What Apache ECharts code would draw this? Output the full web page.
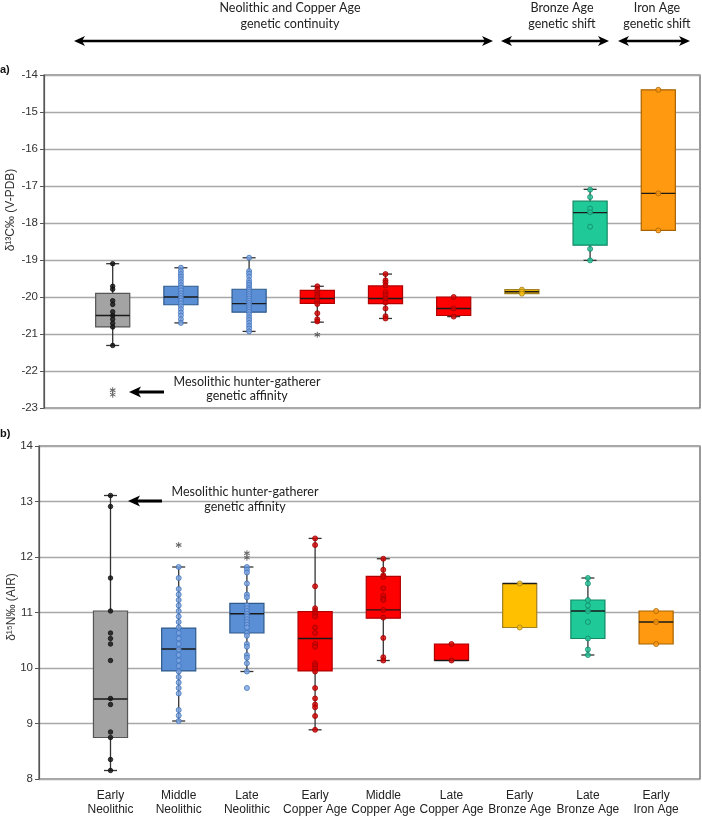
<!DOCTYPE html>
<html>
<head>
<meta charset="utf-8">
<script src="https://cdn.jsdelivr.net/npm/echarts@6/dist/echarts.min.js"></script>
<style>
html,body{margin:0;padding:0;background:#fff;}
#chart{width:702px;height:817px;}
</style>
</head>
<body>
<div id="chart"></div>
<script>
// ---------------- DATA ----------------
const categories = ['Early\nNeolithic','Middle\nNeolithic','Late\nNeolithic','Early\nCopper Age','Middle\nCopper Age','Late\nCopper Age','Early\nBronze Age','Late\nBronze Age','Early\nIron Age'];

// δ13C boxes: [min, Q1, median, Q3, max]
const c13Box = [
  [-21.31, -20.81, -20.50, -19.90, -19.10],
  [-20.70, -20.21, -20.00, -19.71, -19.21],
  [-20.93, -20.41, -20.18, -19.79, -18.94],
  [-20.68, -20.17, -20.04, -19.82, -19.71],
  [-20.58, -20.18, -20.04, -19.70, -19.38],
  [-20.53, -20.50, -20.31, -20.00, -20.00],
  [-19.91, -19.91, -19.86, -19.80, -19.80],
  [-19.01, -18.60, -17.72, -17.41, -17.09],
  [-18.20, -18.20, -17.20, -14.40, -14.40]
];
const c13Points = [
  [-19.10,-19.71,-19.79,-20.10,-20.20,-20.40,-20.50,-20.60,-20.71,-20.81,-21.31],
  [-19.21,-19.30,-19.38,-19.45,-19.52,-19.60,-19.68,-19.75,-19.82,-19.90,-19.97,-20.03,-20.10,-20.17,-20.25,-20.33,-20.42,-20.50,-20.60,-20.70],
  [-18.94,-19.30,-19.37,-19.45,-19.55,-19.62,-19.68,-19.75,-19.80,-19.86,-19.92,-19.98,-20.04,-20.10,-20.16,-20.22,-20.28,-20.34,-20.40,-20.47,-20.55,-20.62,-20.70,-20.78,-20.85,-20.93],
  [-19.71,-19.80,-19.88,-19.94,-20.00,-20.10,-20.19,-20.44,-20.60,-20.66],
  [-19.38,-19.55,-19.61,-19.69,-19.87,-19.95,-20.04,-20.15,-20.31,-20.52,-20.58],
  [-20.00,-20.31,-20.53],
  [-19.80,-19.85,-19.91],
  [-17.10,-17.30,-17.61,-17.71,-18.10,-18.70,-19.01],
  [-14.40,-17.20,-18.20]
];
const c13Outliers = [[0,-22.52],[0,-22.64],[3,-21.02]];

// δ15N boxes: [min, Q1, median, Q3, max]
const n15Box = [
  [8.10, 8.70, 9.40, 11.00, 13.10],
  [9.00, 9.91, 10.31, 10.69, 11.80],
  [9.90, 10.60, 10.95, 11.14, 11.80],
  [8.84, 9.91, 10.50, 10.99, 12.32],
  [10.10, 10.87, 11.02, 11.63, 11.95],
  [10.10, 10.10, 10.10, 10.40, 10.40],
  [10.70, 10.70, 11.50, 11.50, 11.50],
  [10.20, 10.50, 11.00, 11.20, 11.60],
  [10.40, 10.40, 10.80, 11.00, 11.00]
];
const n15Points = [
  [13.10,12.90,11.60,11.00,10.60,10.50,10.40,10.10,9.41,9.30,8.80,8.70,8.30,8.10],
  [11.80,11.60,11.40,11.30,11.20,11.10,11.00,10.90,10.80,10.70,10.60,10.50,10.40,10.30,10.20,10.10,10.00,9.90,9.80,9.70,9.60,9.50,9.20,9.10,9.00],
  [11.80,11.75,11.70,11.50,11.30,11.25,11.10,11.05,11.00,10.95,10.90,10.85,10.80,10.75,10.70,10.60,10.55,10.40,10.35,10.20,10.15,10.05,9.90,9.60],
  [12.32,12.20,11.45,11.05,11.00,10.95,10.90,10.70,10.60,10.40,10.35,10.05,10.00,9.95,9.90,9.60,9.41,9.30,9.25,9.09,8.84],
  [11.95,11.75,11.65,11.62,11.41,11.28,11.22,11.20,11.02,10.88,10.51,10.16,10.10],
  [10.40,10.10],
  [11.50,10.70],
  [11.60,11.50,11.20,11.10,11.00,10.80,10.50,10.30,10.20],
  [11.00,10.80,10.40]
];
const n15Outliers = [[1,12.20],[2,12.05],[2,11.97]];

const c13Ticks = {min:-23, max:-14, interval:1};
const n15Ticks = {min:8, max:14, interval:1};

// ---------------- STYLES ----------------
const boxFill   = ['#a3a3a3','#5a8fd6','#5a8fd6','#ff0000','#ff0000','#ff0000','#ffc000','#1fc998','#ff9a10'];
const boxStroke = ['#555555','#2e5a8a','#2e5a8a','#b00000','#b00000','#b00000','#a08020','#138a66','#a86200'];
const ptFill    = ['#111111','#7fa8e4','#7fa8e4','#d80000','#d80000','#d80000','#ffc000','#22c99a','#ff9a10'];
const ptStroke  = ['#111111','#3f72bb','#3f72bb','#a00000','#a00000','#a00000','#a08020','#13876a','#a86200'];
const ptSize    = [4.5,5,5,5,5,5,5,5,5];

const FONT_TXT = 'Lato, "Open Sans", sans-serif';
const FONT_AX = '"Liberation Sans", Arial, sans-serif';
const FONT_CAT = '"Liberation Sans Narrow", "Liberation Sans", Arial, sans-serif';
const ASTERISK = 'path://M-0.8,-5L0.8,-5L0.8,5L-0.8,5Z M3.93,-3.19L4.73,-1.81L-3.93,3.19L-4.73,1.81Z M-4.73,-1.81L-3.93,-3.19L4.73,1.81L3.93,3.19Z';

function renderBox(params, api) {
  const i = api.value(0);
  const pMin = api.coord([i, api.value(1)]);
  const pQ1 = api.coord([i, api.value(2)]);
  const pMed = api.coord([i, api.value(3)]);
  const pQ3 = api.coord([i, api.value(4)]);
  const pMax = api.coord([i, api.value(5)]);
  const bw = api.size([1, 0])[0] * 0.5;
  const cw = 13;
  const x = pMed[0];
  const children = [];
  children.push({type:'line', shape:{x1:x, y1:pMin[1], x2:x, y2:pMax[1]}, style:{stroke:'#333', lineWidth:1.3}});
  if (pMin[1] - pQ1[1] > 0.5) children.push({type:'line', shape:{x1:x-cw/2, y1:pMin[1], x2:x+cw/2, y2:pMin[1]}, style:{stroke:'#333', lineWidth:1.3}});
  if (pQ3[1] - pMax[1] > 0.5) children.push({type:'line', shape:{x1:x-cw/2, y1:pMax[1], x2:x+cw/2, y2:pMax[1]}, style:{stroke:'#333', lineWidth:1.3}});
  children.push({type:'rect', shape:{x:x-bw/2, y:pQ3[1], width:bw, height:Math.max(pQ1[1]-pQ3[1], 1)}, style:{fill:boxFill[i], stroke:boxStroke[i], lineWidth:1.2}});
  children.push({type:'line', shape:{x1:x-bw/2, y1:pMed[1], x2:x+bw/2, y2:pMed[1]}, style:{stroke:'#1a1a1a', lineWidth:1.4}});
  return {type:'group', children};
}

function boxData(boxes) { return boxes.map((b, i) => [i].concat(b)); }
function pointData(points) {
  const out = [];
  points.forEach((arr, i) => arr.forEach(v => out.push({
    value:[i, v], symbolSize: ptSize[i],
    itemStyle:{color: ptFill[i], borderColor: ptStroke[i], borderWidth: 1}
  })));
  return out;
}

function frameY(idx, t) {
  return {gridIndex: idx, type:'value', min:t.min, max:t.max, interval:t.interval,
    axisLine:{show:true, lineStyle:{color:'#555', width:1.2}},
    axisTick:{show:true, length:4, lineStyle:{color:'#555'}},
    axisLabel:{fontFamily:FONT_AX, fontSize:11.5, color:'#333', margin:6},
    splitLine:{show:true, lineStyle:{color:'#a8a8a8', width:1.3}}};
}
function hiddenY(idx, t) { return {gridIndex: idx, type:'value', min:t.min, max:t.max, show:false}; }

function dblArrow(x1, x2, y) {
  return [
    {type:'line', z:100, shape:{x1:x1+6, y1:y, x2:x2-6, y2:y}, style:{stroke:'#000', lineWidth:2.6}},
    {type:'polygon', z:100, shape:{points:[[x1,y],[x1+11,y-5],[x1+8,y],[x1+11,y+5]]}, style:{fill:'#000'}},
    {type:'polygon', z:100, shape:{points:[[x2,y],[x2-11,y-5],[x2-8,y],[x2-11,y+5]]}, style:{fill:'#000'}}
  ];
}
function leftArrow(tip, tail, y) {
  return [
    {type:'line', z:100, shape:{x1:tip+6, y1:y, x2:tail, y2:y}, style:{stroke:'#000', lineWidth:3}},
    {type:'polygon', z:100, shape:{points:[[tip,y],[tip+12,y-5.5],[tip+9,y],[tip+12,y+5.5]]}, style:{fill:'#000'}}
  ];
}
function txt(x, y, text, opt) {
  return {type:'text', z:100, x, y, style:Object.assign({text, fill:'#222', font:'12.5px ' + FONT_TXT, textAlign:'center', textVerticalAlign:'middle', lineHeight:16}, opt || {})};
}

const graphics = [].concat(
  [txt(290, 16, 'Neolithic and Copper Age\ngenetic continuity'),
   txt(562, 16, 'Bronze Age\ngenetic shift'),
   txt(657, 16, 'Iron Age\ngenetic shift')],
  dblArrow(74, 493, 41), dblArrow(501, 609, 41), dblArrow(618, 690, 41),
  [txt(247, 388.5, 'Mesolithic hunter-gatherer\ngenetic affinity', {lineHeight:14})],
  leftArrow(129, 164, 392),
  [txt(245, 499.5, 'Mesolithic hunter-gatherer\ngenetic affinity', {lineHeight:15})],
  leftArrow(128, 162, 501),
  [{type:'text', z:100, x:0, y:70, style:{text:'a)', font:'bold 11px ' + FONT_AX, fill:'#111', textVerticalAlign:'middle'}},
   {type:'text', z:100, x:0, y:434, style:{text:'b)', font:'bold 11px ' + FONT_AX, fill:'#111', textVerticalAlign:'middle'}},
   {type:'text', z:100, x:11, y:210, rotation:Math.PI/2, style:{text:'δ¹³C‰ (V-PDB)', font:'12px ' + FONT_AX, fill:'#333', textAlign:'center', textVerticalAlign:'middle'}},
   {type:'text', z:100, x:12, y:607, rotation:Math.PI/2, style:{text:'δ¹⁵N‰ (AIR)', font:'12px ' + FONT_AX, fill:'#333', textAlign:'center', textVerticalAlign:'middle'}}]
);

const chart = echarts.init(document.getElementById('chart'), null, {renderer:'canvas'});
chart.setOption({
  animation:false,
  backgroundColor:'#fff',
  grid:[
    {left:44, right:2, top:75, height:333, show:true, borderColor:'#555', borderWidth:1.2, backgroundColor:'transparent'},
    {left:78.6, width:613.8, top:75, height:333, show:false},
    {left:39, right:2, top:446, height:333, show:true, borderColor:'#555', borderWidth:1.2, backgroundColor:'transparent'},
    {left:76.4, width:613.8, top:446, height:333, show:false}
  ],
  xAxis:[
    {gridIndex:0, type:'value', min:0, max:1, show:false},
    {gridIndex:1, type:'category', data:categories, show:false},
    {gridIndex:2, type:'value', min:0, max:1, show:false},
    {gridIndex:3, type:'category', data:categories,
      axisLine:{show:false}, axisTick:{show:false}, splitLine:{show:false},
      axisLabel:{show:true, interval:0, margin:13, fontFamily:FONT_CAT, fontSize:12, lineHeight:14, color:'#222'}}
  ],
  yAxis:[frameY(0, c13Ticks), hiddenY(1, c13Ticks), frameY(2, n15Ticks), hiddenY(3, n15Ticks)],
  series:[
    {type:'custom', xAxisIndex:1, yAxisIndex:1, renderItem:renderBox, data:boxData(c13Box), z:2, encode:{x:0, y:[1,2,3,4,5]}},
    {type:'scatter', xAxisIndex:1, yAxisIndex:1, data:pointData(c13Points), z:3, symbol:'circle'},
    {type:'scatter', xAxisIndex:1, yAxisIndex:1, data:c13Outliers, z:3, symbol:ASTERISK, symbolSize:6, itemStyle:{color:'#444'}},
    {type:'custom', xAxisIndex:3, yAxisIndex:3, renderItem:renderBox, data:boxData(n15Box), z:2, encode:{x:0, y:[1,2,3,4,5]}},
    {type:'scatter', xAxisIndex:3, yAxisIndex:3, data:pointData(n15Points), z:3, symbol:'circle'},
    {type:'scatter', xAxisIndex:3, yAxisIndex:3, data:n15Outliers, z:3, symbol:ASTERISK, symbolSize:6, itemStyle:{color:'#444'}}
  ],
  graphic:graphics
});
</script>
</body>
</html>
